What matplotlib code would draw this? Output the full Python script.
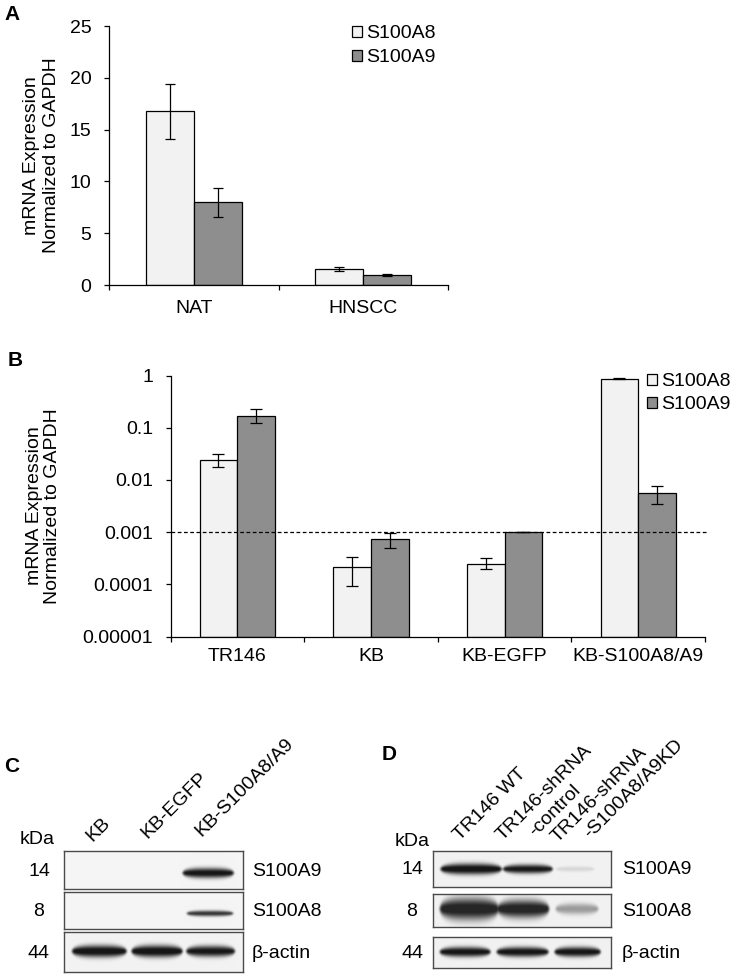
import numpy as np
import matplotlib
matplotlib.use("Agg")
import matplotlib.pyplot as plt
from matplotlib.ticker import FixedLocator, FixedFormatter

plt.rcParams['font.family'] = ['Liberation Sans', 'DejaVu Sans']
plt.rcParams['font.size'] = 14

# ---------------- data ----------------
A_categories = ["NAT", "HNSCC"]
A_S100A8 = [16.75, 1.54]
A_S100A8_err = [2.67, 0.22]
A_S100A9 = [8.0, 0.96]
A_S100A9_err = [1.40, 0.08]
A_yticks = [0, 5, 10, 15, 20, 25]

B_categories = ["TR146", "KB", "KB-EGFP", "KB-S100A8/A9"]
B_S100A8 = [0.0245, 0.00021, 0.00025, 0.87]
B_S100A8_lo = [0.0175, 0.000094, 0.000194, 0.85]
B_S100A8_hi = [0.031, 0.00033, 0.000314, 0.89]
B_S100A9 = [0.17, 0.00073, 0.0010, 0.0055]
B_S100A9_lo = [0.121, 0.00049, 0.00099, 0.0034]
B_S100A9_hi = [0.227, 0.00096, 0.00101, 0.0077]
B_yticks = [0.00001, 0.0001, 0.001, 0.01, 0.1, 1]
B_yticklabels = ["0.00001", "0.0001", "0.001", "0.01", "0.1", "1"]
B_threshold = 0.001

series_names = ["S100A8", "S100A9"]
ylabel_lines = ["mRNA Expression", "Normalized to GAPDH"]

C_lanes = ["KB", "KB-EGFP", "KB-S100A8/A9"]
C_S100A9 = [0.0, 0.0, 0.97]
C_S100A8 = [0.0, 0.0, 0.85]
C_actin = [1.0, 1.0, 0.95]

D_lanes = [["TR146 WT"], ["TR146-shRNA", "-control"], ["TR146-shRNA", "-S100A8/A9KD"]]
D_S100A9 = [1.0, 0.95, 0.12]
D_S100A8 = [1.0, 1.0, 0.40]
D_actin = [0.97, 0.97, 0.97]

blot_rows = ["S100A9", "S100A8", "β-actin"]
blot_kda = ["14", "8", "44"]

# ---------------- layout helpers ----------------
W, H = 738, 977
fig = plt.figure(figsize=(W / 100, H / 100), dpi=100)


def fx(x):
    return x / W


def fy(y):
    return 1 - y / H


def add_ax(l, t, r, b):
    return fig.add_axes([l / W, 1 - b / H, (r - l) / W, (b - t) / H])


def ftext(x, y, s, **kw):
    fig.text(fx(x), fy(y), s, **kw)


c8 = "#f2f2f2"
c9 = "#8e8e8e"
bar_kw = dict(edgecolor="black", linewidth=0.9)

# ---------------- Panel A ----------------
axA = add_ax(109, 26, 448, 285)
w = 0.283
xA = np.arange(len(A_categories)) + 0.5
axA.bar(xA - w / 2, A_S100A8, w, color=c8, label=series_names[0], **bar_kw,
        yerr=A_S100A8_err, error_kw=dict(ecolor="black", elinewidth=0.9, capsize=3.6, capthick=0.9))
axA.bar(xA + w / 2, A_S100A9, w, color=c9, label=series_names[1], **bar_kw,
        yerr=A_S100A9_err, error_kw=dict(ecolor="black", elinewidth=0.9, capsize=3.6, capthick=0.9))
axA.set_xlim(0, len(A_categories))
axA.set_ylim(0, 25)
axA.set_yticks(A_yticks)
axA.set_xticks(xA)
axA.set_xticklabels(A_categories)
axA.xaxis.set_minor_locator(FixedLocator(np.arange(len(A_categories) + 1)))
axA.tick_params(axis="x", which="major", length=0, pad=11, labelsize=14)
axA.tick_params(axis="x", which="minor", length=3.6, width=0.9, direction="out")
axA.tick_params(axis="y", length=3.6, width=0.9, pad=9, labelsize=14)
for s in ["top", "right"]:
    axA.spines[s].set_visible(False)
for s in ["left", "bottom"]:
    axA.spines[s].set_linewidth(0.9)
axA.legend(loc="upper left", bbox_to_anchor=(fx(352), fy(25)), bbox_transform=fig.transFigure,
           frameon=False, borderpad=0, borderaxespad=0, handlelength=0.5, handleheight=0.5,
           handletextpad=0.25, labelspacing=0.38, fontsize=14)
ftext(32, 155.5, ylabel_lines[0], rotation=90, ha="center", va="center", fontsize=14)
ftext(52, 155.5, ylabel_lines[1], rotation=90, ha="center", va="center", fontsize=14)
ftext(12, 14.5, "A", fontweight="bold", ha="center", va="center", fontsize=15)

# ---------------- Panel B ----------------
axB = add_ax(170.5, 375.5, 705, 636.5)
axB.set_yscale("log")
wb = 0.282
xB = np.arange(len(B_categories)) + 0.5
bot = B_yticks[0]
e8 = [np.array(B_S100A8) - np.array(B_S100A8_lo), np.array(B_S100A8_hi) - np.array(B_S100A8)]
e9 = [np.array(B_S100A9) - np.array(B_S100A9_lo), np.array(B_S100A9_hi) - np.array(B_S100A9)]
axB.bar(xB - wb / 2, np.array(B_S100A8) - bot, wb, bottom=bot, color=c8, label=series_names[0], **bar_kw)
axB.bar(xB + wb / 2, np.array(B_S100A9) - bot, wb, bottom=bot, color=c9, label=series_names[1], **bar_kw)
axB.errorbar(xB - wb / 2, B_S100A8, yerr=e8, fmt="none", ecolor="black", elinewidth=0.9, capsize=4.3, capthick=0.9)
axB.errorbar(xB + wb / 2, B_S100A9, yerr=e9, fmt="none", ecolor="black", elinewidth=0.9, capsize=4.3, capthick=0.9)
axB.axhline(B_threshold, xmin=0, xmax=1.003, color="black", linewidth=0.9, linestyle=(0, (3, 2)), clip_on=False)
axB.set_xlim(0, len(B_categories))
axB.set_ylim(B_yticks[0], B_yticks[-1])
axB.yaxis.set_major_locator(FixedLocator(B_yticks))
axB.yaxis.set_major_formatter(FixedFormatter(B_yticklabels))
axB.yaxis.set_minor_locator(FixedLocator([]))
axB.set_xticks(xB)
axB.set_xticklabels(B_categories)
axB.xaxis.set_minor_locator(FixedLocator(np.arange(len(B_categories) + 1)))
axB.tick_params(axis="x", which="major", length=0, pad=8, labelsize=14)
axB.tick_params(axis="x", which="minor", length=3.6, width=0.9, direction="out")
axB.tick_params(axis="y", length=3.6, width=0.9, pad=9, labelsize=14)
for s in ["top", "right"]:
    axB.spines[s].set_visible(False)
for s in ["left", "bottom"]:
    axB.spines[s].set_linewidth(0.9)
axB.legend(loc="upper left", bbox_to_anchor=(fx(647), fy(373)), bbox_transform=fig.transFigure,
           frameon=False, borderpad=0, borderaxespad=0, handlelength=0.5, handleheight=0.5,
           handletextpad=0.25, labelspacing=0.33, fontsize=14)
ftext(35, 506, ylabel_lines[0], rotation=90, ha="center", va="center", fontsize=14)
ftext(53, 506, ylabel_lines[1], rotation=90, ha="center", va="center", fontsize=14)
ftext(15, 360, "B", fontweight="bold", ha="center", va="center", fontsize=15)


# ---------------- Blots ----------------
def _blur(a, sigma):
    r = int(3 * sigma) + 1
    k = np.exp(-0.5 * (np.arange(-r, r + 1) / sigma) ** 2)
    k /= k.sum()
    p = np.pad(a, r, mode="edge")
    p = np.apply_along_axis(lambda v: np.convolve(v, k, mode="same"), 0, p)
    p = np.apply_along_axis(lambda v: np.convolve(v, k, mode="same"), 1, p)
    return p[r:-r, r:-r]


def blot_strip(box, intensities, centers, halfw, yc, thick, bg, dark="#161616"):
    l, t, r, b = box
    ax = add_ax(l, t, r, b)
    n = len(intensities)
    ax.set_xlim(0, n)
    ax.set_ylim(0, 1)
    nxp, nyp = int((r - l) * 2), int((b - t) * 2)
    X, Y = np.meshgrid(np.linspace(0, n, nxp), np.linspace(0, 1, nyp))
    hpx = b - t
    D = np.zeros_like(X)
    for i, inten in enumerate(intensities):
        if inten <= 0:
            continue
        dx = (X - (i + centers[i])) / halfw[i]
        env = np.clip(1 - np.abs(dx) ** 3, 0, 1) ** 0.45
        sig = thick[i] / hpx / 2
        dy = (Y - yc) / (sig * np.maximum(env, 1e-3))
        band = np.exp(-np.abs(dy) ** 2.4) * (env > 0)
        D = np.maximum(D, inten * band * np.clip(env * 1.8, 0, 1))
    D = np.clip(_blur(D, 1.6) * 1.08, 0, 1)
    bgc = np.array(matplotlib.colors.to_rgb(bg))
    dkc = np.array(matplotlib.colors.to_rgb(dark))
    img = bgc[None, None, :] * (1 - D[..., None]) + dkc[None, None, :] * D[..., None]
    ax.imshow(img, extent=(0, n, 0, 1), origin="lower", aspect="auto", interpolation="bilinear")
    ax.set_xticks([])
    ax.set_yticks([])
    for s in ax.spines.values():
        s.set_edgecolor("#4a4a4a")
        s.set_linewidth(1.0)
    return ax


# Panel C
C_boxes = [(64, 851, 243, 889), (64, 892, 243, 929), (64, 932, 243, 972)]
blot_strip(C_boxes[0], C_S100A9, [0.5, 0.5, 0.42], [0.4, 0.4, 0.44], 0.42, [10, 10, 10], "#f5f5f5")
blot_strip(C_boxes[1], C_S100A8, [0.5, 0.5, 0.45], [0.4, 0.4, 0.40], 0.42, [5.5, 5.5, 5.5], "#f5f5f5")
blot_strip(C_boxes[2], C_actin, [0.59, 0.56, 0.46], [0.47, 0.44, 0.42], 0.52, [12, 12, 11], "#f3f3f3")
ftext(12, 766, "C", fontweight="bold", ha="center", va="center", fontsize=15)
ftext(37, 840, "kDa", ha="center", va="center", fontsize=14)
for (l, t, r, b), kd, name in zip(C_boxes, blot_kda, blot_rows):
    ftext(39, (t + b) / 2 + 1, kd, ha="center", va="center", fontsize=14)
    ftext(252, (t + b) / 2 + 1, name, ha="left", va="center", fontsize=14)
C_label_pos = [(92, 842), (147, 839), (201, 837)]
for (x, y), lab in zip(C_label_pos, C_lanes):
    ftext(x, y, lab, rotation=45, rotation_mode="anchor", ha="left", va="baseline", fontsize=14)

# Panel D
D_boxes = [(433, 851, 611, 887), (433, 894, 611, 927), (433, 937, 611, 968)]
blot_strip(D_boxes[0], D_S100A9, [0.64, 0.6, 0.4], [0.53, 0.43, 0.33], 0.5, [11, 9, 5], "#f2f2f2")
blot_strip(D_boxes[1], D_S100A8, [0.61, 0.52, 0.43], [0.51, 0.45, 0.37], 0.55, [22, 18, 11], "#f2f2f2", dark="#262626")
blot_strip(D_boxes[2], D_actin, [0.54, 0.51, 0.44], [0.44, 0.45, 0.40], 0.52, [10, 10, 10], "#f2f2f2")
ftext(389, 755, "D", fontweight="bold", ha="center", va="center", fontsize=15)
ftext(412, 841, "kDa", ha="center", va="center", fontsize=14)
for (l, t, r, b), kd, name in zip(D_boxes, blot_kda, blot_rows):
    ftext(412, (t + b) / 2 + 1, kd, ha="center", va="center", fontsize=14)
    ftext(622, (t + b) / 2 + 1, name, ha="left", va="center", fontsize=14)
D_label_pos = [(460, 841), (503, 841), (558, 843)]
for (x, y), lines in zip(D_label_pos, D_lanes):
    for k, line in enumerate(lines):
        # subsequent lines are shifted along the text direction and below it
        ox = k * (25 * 0.7071 + 20 * 0.7071)
        oy = k * (-25 * 0.7071 + 20 * 0.7071)
        ftext(x + ox, y + oy, line, rotation=45, rotation_mode="anchor", ha="left", va="baseline", fontsize=14)

fig.savefig("out.png", dpi=100)
